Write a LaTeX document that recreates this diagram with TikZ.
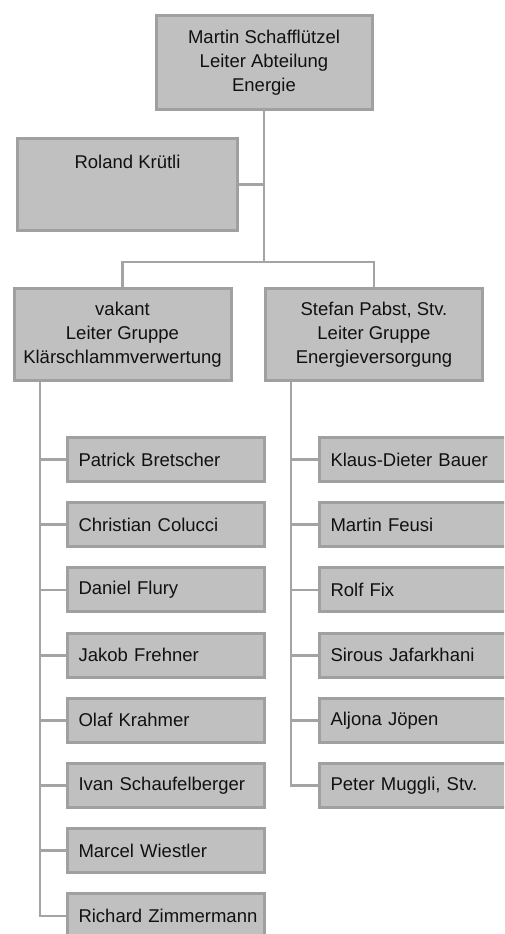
\documentclass[tikz,border=0pt]{standalone}
\usepackage{fontspec}
\setmainfont{Liberation Sans}
\definecolor{boxfill}{HTML}{C0C0C0}
\definecolor{boxline}{HTML}{A0A0A0}
\definecolor{connline}{HTML}{A4A4A4}
\definecolor{txt}{HTML}{111111}
\begin{document}
\begin{tikzpicture}[x=1pt,y=-1pt,
  box/.style={draw=boxline, fill=boxfill, line width=3pt, inner sep=0pt,
    font=\fontsize{18.5}{24}\selectfont, text=txt},
  head/.style={box, minimum width=216pt, minimum height=94pt, align=center},
  grp/.style={box, minimum width=217pt, minimum height=92pt, align=center},
  member/.style={box, anchor=west, inner xsep=11.5pt, text width=174pt,
    minimum height=44pt, align=left},
  conn/.style={draw=connline, line width=2.8pt}]
\useasboundingbox (0,0) rectangle (504,934);
\clip (0,0) rectangle (504,934);
\fill[white] (0,0) rectangle (504,934);

% junction points
\coordinate (bar) at (264,262);
\coordinate (lv) at (40,382);
\coordinate (rv) at (291,382);

% boxes
\node[head] (top) at (264,62.5) {Martin Schafflützel\\Leiter Abteilung\\Energie};
\node[box, minimum width=220pt, minimum height=92pt,
  label={[anchor=center, yshift=-25pt, font=\fontsize{18.5}{24}\selectfont, text=txt]north:Roland Krütli}]
  (rol) at (127.5,184.5) {};
\node[grp] (g1) at (122.5,334.5) {vakant\\Leiter Gruppe\\Klärschlammverwertung};
\node[grp] (g2) at (374,334.5) {Stefan Pabst, Stv.\\Leiter Gruppe\\Energieversorgung};

\node[member] (m1) at (65.5,459.5) {Patrick Bretscher};
\node[member] (m2) at (65.5,524.7) {Christian Colucci};
\node[member] (m3) at (65.5,589.9) {Daniel Flury};
\node[member] (m4) at (65.5,655.1) {Jakob Frehner};
\node[member] (m5) at (65.5,720.3) {Olaf Krahmer};
\node[member] (m6) at (65.5,785.5) {Ivan Schaufelberger};
\node[member] (m7) at (65.5,850.7) {Marcel Wiestler};
\node[member] (m8) at (65.5,915.9) {\mbox{Richard Zimmermann}};

\node[member] (r1) at (317.5,459.5) {Klaus-Dieter Bauer};
\node[member] (r2) at (317.5,524.7) {Martin Feusi};
\node[member] (r3) at (317.5,589.9) {Rolf Fix};
\node[member] (r4) at (317.5,655.1) {Sirous Jafarkhani};
\node[member] (r5) at (317.5,720.3) {Aljona Jöpen};
\node[member] (r6) at (317.5,785.5) {Peter Muggli, Stv.};

% connectors
\draw[conn] (top.south) -- (bar);
\draw[conn] (rol.east) -- (rol.east -| top.south);
\draw[conn] (g1.north) |- (bar) -| (g2.north);
\draw[conn] (lv) |- (m8.west);
\foreach \i in {1,...,7} { \draw[conn] (m\i.west) -- (m\i.west -| lv); }
\draw[conn] (rv) |- (r6.west);
\foreach \i in {1,...,5} { \draw[conn] (r\i.west) -- (r\i.west -| rv); }
\end{tikzpicture}
\end{document}
